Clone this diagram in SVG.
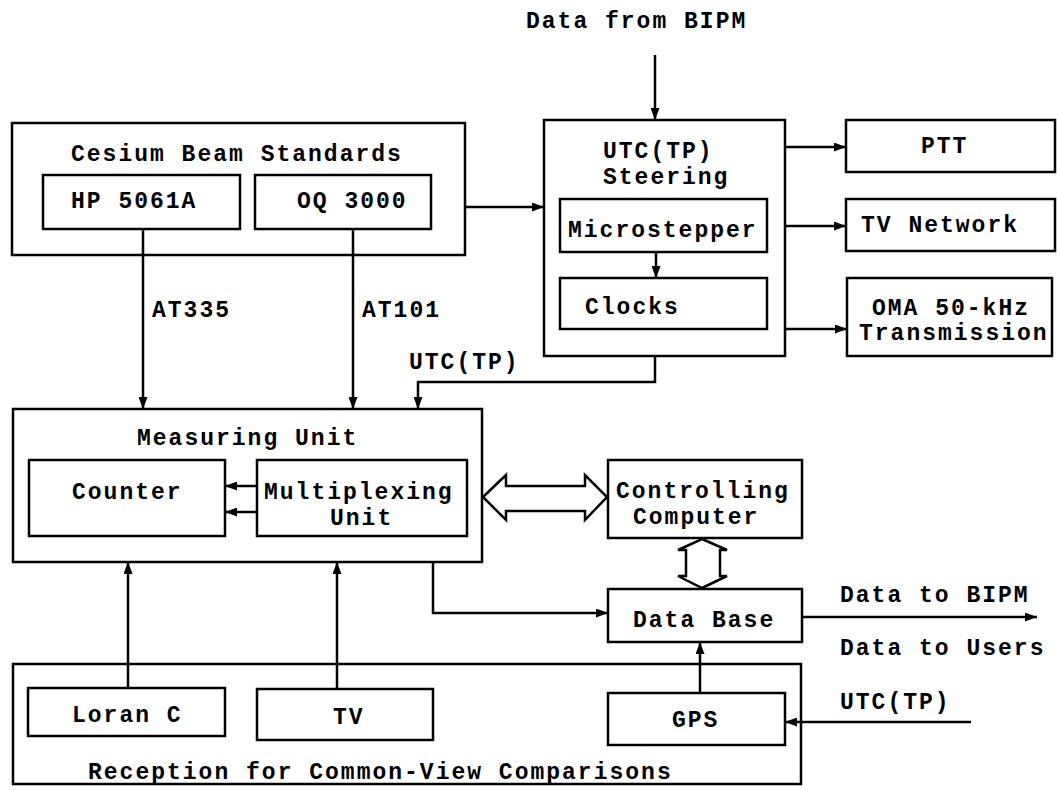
<svg xmlns="http://www.w3.org/2000/svg" width="1057" height="790" viewBox="0 0 1057 790">
<style>
  .box { fill: none; stroke: #000; stroke-width: 2.5; }
  .arr { fill: none; stroke: #000; stroke-width: 2.5; marker-end: url(#ah); }
  .hollow { fill: #fff; stroke: #000; stroke-width: 2.5; stroke-linejoin: miter; }
  text { font-family: "Liberation Mono", "DejaVu Sans Mono", monospace; font-weight: bold; font-size: 23px; letter-spacing: 2px; fill: #000; }
</style>
<defs>
  <marker id="ah" viewBox="0 0 12 9" refX="12" refY="4.5" markerWidth="12" markerHeight="9" markerUnits="userSpaceOnUse" orient="auto">
    <path d="M0,0 L12,4.5 L0,9 Z" fill="#000"/>
  </marker>
</defs>
<rect width="1057" height="790" fill="#fff"/>

<g id="connectors">
  <line class="arr" x1="655" y1="55" x2="655" y2="120"/>
  <line class="arr" x1="465" y1="207" x2="544" y2="207"/>
  <line class="arr" x1="785" y1="147" x2="846" y2="147"/>
  <line class="arr" x1="785" y1="226" x2="846" y2="226"/>
  <line class="arr" x1="785" y1="329" x2="847" y2="329"/>
  <line class="arr" x1="656" y1="252" x2="656" y2="278"/>
  <line class="arr" x1="143" y1="229" x2="143" y2="409"/>
  <line class="arr" x1="353" y1="229" x2="353" y2="409"/>
  <polyline class="arr" points="655,356 655,382 418,382 418,409"/>
  <line class="arr" x1="257" y1="486" x2="225" y2="486"/>
  <line class="arr" x1="257" y1="512" x2="225" y2="512"/>
  <polygon class="hollow" points="483,497 506,475 506,486 585,486 585,475 607,497 585,520 585,511 506,511 506,520"/>
  <polygon class="hollow" points="702,539 727,550 720,550 720,576 727,576 702,588 678,576 686,576 686,550 678,550"/>
  <polyline class="arr" points="433,562 433,613 608,613"/>
  <line class="arr" x1="802" y1="617" x2="1037" y2="617"/>
  <line class="arr" x1="700" y1="693" x2="700" y2="642"/>
  <line class="arr" x1="971" y1="722" x2="785" y2="722"/>
  <line class="arr" x1="128" y1="688" x2="128" y2="562"/>
  <line class="arr" x1="337" y1="689" x2="337" y2="562"/>
  <text x="152" y="317">AT335</text>
  <text x="362" y="317">AT101</text>
  <text x="409" y="369">UTC(TP)</text>
  <text x="526" y="28">Data from BIPM</text>
  <text x="840" y="602">Data to BIPM</text>
  <text x="840" y="655">Data to Users</text>
  <text x="840" y="709">UTC(TP)</text>
</g>

<g id="cesium">
  <rect class="box" x="12" y="123" width="453" height="132"/>
  <text x="71" y="161">Cesium Beam Standards</text>
</g>
<g id="hp5061a">
  <rect class="box" x="43" y="175" width="197" height="54"/>
  <text x="71" y="208">HP 5061A</text>
</g>
<g id="oq3000">
  <rect class="box" x="255" y="175" width="176" height="54"/>
  <text x="297" y="208">OQ 3000</text>
</g>

<g id="steering">
  <rect class="box" x="544" y="120" width="241" height="236"/>
  <text x="603" y="158">UTC(TP)</text>
  <text x="603" y="184">Steering</text>
</g>
<g id="microstepper">
  <rect class="box" x="560" y="199" width="207" height="53"/>
  <text x="568" y="237">Microstepper</text>
</g>
<g id="clocks">
  <rect class="box" x="560" y="278" width="207" height="51"/>
  <text x="585" y="314">Clocks</text>
</g>

<g id="ptt">
  <rect class="box" x="846" y="120" width="209" height="52"/>
  <text x="921" y="153">PTT</text>
</g>
<g id="tvnetwork">
  <rect class="box" x="846" y="199" width="209" height="52"/>
  <text x="861" y="232">TV Network</text>
</g>
<g id="oma">
  <rect class="box" x="847" y="278" width="205" height="78"/>
  <text x="872" y="315">OMA 50-kHz</text>
  <text x="859" y="340">Transmission</text>
</g>

<g id="measuring">
  <rect class="box" x="13" y="409" width="469" height="153"/>
  <text x="137" y="445">Measuring Unit</text>
</g>
<g id="counter">
  <rect class="box" x="29" y="460" width="196" height="76"/>
  <text x="72" y="499">Counter</text>
</g>
<g id="multiplexing">
  <rect class="box" x="257" y="460" width="210" height="76"/>
  <text x="264" y="499">Multiplexing</text>
  <text x="330" y="525">Unit</text>
</g>

<g id="controlling">
  <rect class="box" x="608" y="460" width="194" height="78"/>
  <text x="616" y="498">Controlling</text>
  <text x="633" y="524">Computer</text>
</g>
<g id="database">
  <rect class="box" x="608" y="589" width="194" height="53"/>
  <text x="633" y="627">Data Base</text>
</g>

<g id="reception">
  <rect class="box" x="13" y="664" width="788" height="120"/>
  <text x="88" y="779">Reception for Common-View Comparisons</text>
</g>
<g id="loran">
  <rect class="box" x="28" y="688" width="197" height="48"/>
  <text x="72" y="722">Loran C</text>
</g>
<g id="tv">
  <rect class="box" x="257" y="689" width="176" height="51"/>
  <text x="333" y="724">TV</text>
</g>
<g id="gps">
  <rect class="box" x="608" y="693" width="177" height="52"/>
  <text x="672" y="727">GPS</text>
</g>
</svg>
